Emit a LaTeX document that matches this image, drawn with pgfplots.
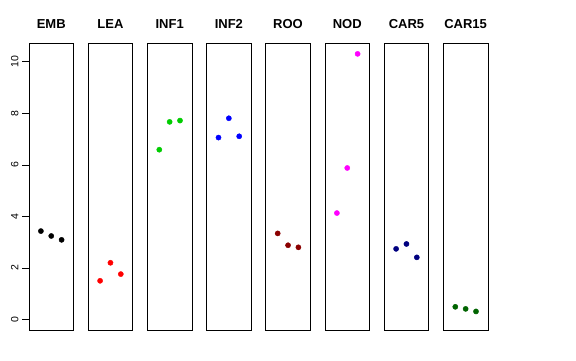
\documentclass[border=0pt]{standalone}
\usepackage{pgfplots}
\pgfplotsset{compat=1.18}
\usepackage{fontspec}
\setmainfont{Liberation Sans}
\definecolor{rgreen}{RGB}{0,205,0}
\definecolor{rdarkred}{RGB}{139,0,0}
\definecolor{rnavy}{RGB}{0,0,128}
\definecolor{rdarkgreen}{RGB}{0,100,0}
\definecolor{rmagenta}{RGB}{255,0,255}
\pgfplotsset{
  panel/.style={
    scale only axis, width=44.5pt, height=286.7pt, anchor=south west,
    xmin=-0.15, xmax=4.15, ymin=-0.41, ymax=10.72,
    xtick=\empty, ytick=\empty,
    axis line style={black, line width=0.75pt},
    title style={at={(0.5,1)}, anchor=base, yshift=9pt, font=\fontsize{13}{13}\selectfont\bfseries},
    /pgf/number format/assume math mode=true,
    tick label style={font=\fontsize{10.5}{10.5}\selectfont},
    clip=false,
  },
  pts/.style={only marks, mark=*, mark size=2.6pt, mark options={draw=#1, fill=#1}},
}
\begin{document}
\begin{tikzpicture}
\path[use as bounding box, fill=white] (0pt,0pt) rectangle (576pt,360pt);
\begin{axis}[panel, at={(29pt,30pt)}, title={EMB},
  ytick={0,2,4,6,8,10}, ytick pos=left, tick align=outside, major tick length=7pt,
  ytick style={black, line width=0.75pt},
  yticklabel style={rotate=90, anchor=south}]
\addplot[pts=black] coordinates {(1,3.43) (2,3.24) (3,3.09)};
\end{axis}
\begin{axis}[panel, at={(88.2pt,30pt)}, title={LEA}]
\addplot[pts=red] coordinates {(1,1.50) (2,2.20) (3,1.76)};
\end{axis}
\begin{axis}[panel, at={(147.4pt,30pt)}, title={INF1}]
\addplot[pts=rgreen] coordinates {(1,6.59) (2,7.67) (3,7.72)};
\end{axis}
\begin{axis}[panel, at={(206.6pt,30pt)}, title={INF2}]
\addplot[pts=blue] coordinates {(1,7.06) (2,7.81) (3,7.11)};
\end{axis}
\begin{axis}[panel, at={(265.8pt,30pt)}, title={ROO}]
\addplot[pts=rdarkred] coordinates {(1,3.34) (2,2.88) (3,2.80)};
\end{axis}
\begin{axis}[panel, at={(325pt,30pt)}, title={NOD}]
\addplot[pts=rmagenta] coordinates {(1,4.13) (2,5.88) (3,10.31)};
\end{axis}
\begin{axis}[panel, at={(384.2pt,30pt)}, title={CAR5}]
\addplot[pts=rnavy] coordinates {(1,2.74) (2,2.93) (3,2.41)};
\end{axis}
\begin{axis}[panel, at={(443.4pt,30pt)}, title={CAR15}]
\addplot[pts=rdarkgreen] coordinates {(1,0.49) (2,0.41) (3,0.31)};
\end{axis}
\end{tikzpicture}
\end{document}
